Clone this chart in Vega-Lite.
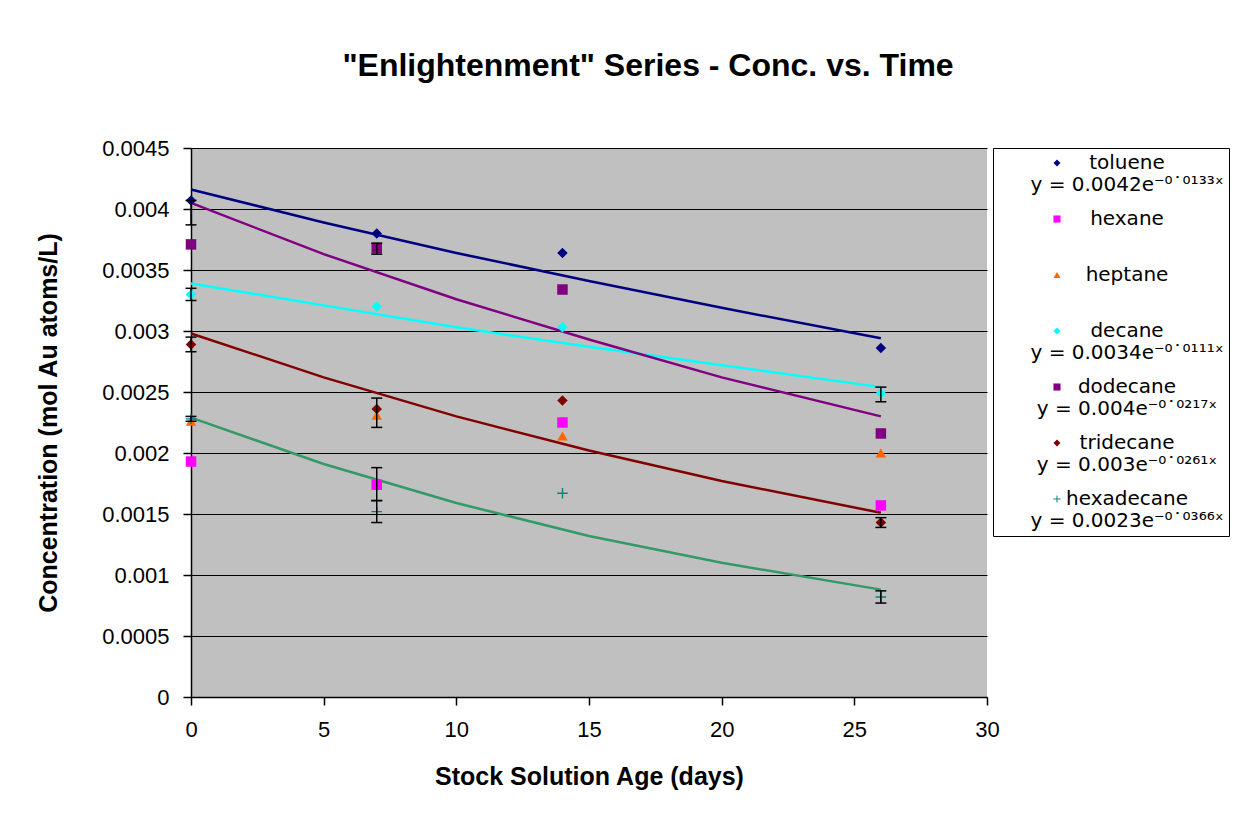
{
  "$schema": "https://vega.github.io/schema/vega-lite/v6.json",
  "width": 796,
  "height": 549,
  "autosize": {"type": "none"},
  "padding": {"left": 191, "top": 148, "right": 261, "bottom": 123},
  "background": "white",
  "title": {
    "text": "\"Enlightenment\" Series - Conc. vs. Time",
    "fontSize": 32,
    "fontWeight": "bold",
    "font": "Liberation Sans",
    "color": "black",
    "anchor": "middle",
    "frame": "group",
    "dx": 59,
    "offset": 54
  },
  "datasets": {
    "pts": [
      {"series": "toluene", "day": 0, "conc": 0.00407},
      {"series": "toluene", "day": 7, "conc": 0.00380},
      {"series": "toluene", "day": 14, "conc": 0.00364},
      {"series": "toluene", "day": 26, "conc": 0.00286},
      {"series": "hexane", "day": 0, "conc": 0.00193},
      {"series": "hexane", "day": 7, "conc": 0.00174},
      {"series": "hexane", "day": 14, "conc": 0.00225},
      {"series": "hexane", "day": 26, "conc": 0.00157},
      {"series": "heptane", "day": 0, "conc": 0.00226},
      {"series": "heptane", "day": 7, "conc": 0.00231},
      {"series": "heptane", "day": 14, "conc": 0.00214},
      {"series": "heptane", "day": 26, "conc": 0.00200},
      {"series": "decane", "day": 0, "conc": 0.00330},
      {"series": "decane", "day": 7, "conc": 0.00320},
      {"series": "decane", "day": 14, "conc": 0.00303},
      {"series": "decane", "day": 26, "conc": 0.00249},
      {"series": "dodecane", "day": 0, "conc": 0.00371},
      {"series": "dodecane", "day": 7, "conc": 0.00368},
      {"series": "dodecane", "day": 14, "conc": 0.00334},
      {"series": "dodecane", "day": 26, "conc": 0.00216},
      {"series": "tridecane", "day": 0, "conc": 0.00289},
      {"series": "tridecane", "day": 7, "conc": 0.00236},
      {"series": "tridecane", "day": 14, "conc": 0.00243},
      {"series": "tridecane", "day": 26, "conc": 0.00143},
      {"series": "hexadecane", "day": 0, "conc": 0.00228},
      {"series": "hexadecane", "day": 7, "conc": 0.00152},
      {"series": "hexadecane", "day": 14, "conc": 0.00167},
      {"series": "hexadecane", "day": 26, "conc": 0.00082}
    ],
    "err": [
      {"day": 0, "lo": 0.00387, "hi": 0.00407},
      {"day": 0, "lo": 0.00325, "hi": 0.00335},
      {"day": 0, "lo": 0.00283, "hi": 0.00295},
      {"day": 0, "lo": 0.00226, "hi": 0.00230},
      {"day": 7, "lo": 0.00363, "hi": 0.00372},
      {"day": 7, "lo": 0.00221, "hi": 0.00245},
      {"day": 7, "lo": 0.00161, "hi": 0.00188},
      {"day": 7, "lo": 0.00143, "hi": 0.00161},
      {"day": 26, "lo": 0.00242, "hi": 0.00254},
      {"day": 26, "lo": 0.00139, "hi": 0.00147},
      {"day": 26, "lo": 0.00077, "hi": 0.00087}
    ],
    "trend": [
      {"series": "toluene", "day": 0, "conc": 0.00416},
      {"series": "toluene", "day": 5, "conc": 0.00389},
      {"series": "toluene", "day": 10, "conc": 0.00364},
      {"series": "toluene", "day": 15, "conc": 0.00341},
      {"series": "toluene", "day": 20, "conc": 0.00319},
      {"series": "toluene", "day": 26, "conc": 0.00294},
      {"series": "decane", "day": 0, "conc": 0.00339},
      {"series": "decane", "day": 5, "conc": 0.00321},
      {"series": "decane", "day": 10, "conc": 0.00303},
      {"series": "decane", "day": 15, "conc": 0.00287},
      {"series": "decane", "day": 20, "conc": 0.00272},
      {"series": "decane", "day": 26, "conc": 0.00254},
      {"series": "dodecane", "day": 0, "conc": 0.00405},
      {"series": "dodecane", "day": 5, "conc": 0.00363},
      {"series": "dodecane", "day": 10, "conc": 0.00326},
      {"series": "dodecane", "day": 15, "conc": 0.00293},
      {"series": "dodecane", "day": 20, "conc": 0.00262},
      {"series": "dodecane", "day": 26, "conc": 0.00230},
      {"series": "tridecane", "day": 0, "conc": 0.00298},
      {"series": "tridecane", "day": 5, "conc": 0.00262},
      {"series": "tridecane", "day": 10, "conc": 0.00230},
      {"series": "tridecane", "day": 15, "conc": 0.00202},
      {"series": "tridecane", "day": 20, "conc": 0.00177},
      {"series": "tridecane", "day": 26, "conc": 0.00151},
      {"series": "hexadecane", "day": 0, "conc": 0.00229},
      {"series": "hexadecane", "day": 5, "conc": 0.00191},
      {"series": "hexadecane", "day": 10, "conc": 0.00159},
      {"series": "hexadecane", "day": 15, "conc": 0.00132},
      {"series": "hexadecane", "day": 20, "conc": 0.00110},
      {"series": "hexadecane", "day": 26, "conc": 0.00088}
    ]
  },
  "config": {
    "font": "Liberation Sans",
    "view": {"fill": "#C0C0C0", "stroke": null},
    "axis": {
      "domainColor": "black",
      "domainWidth": 1.5,
      "tickColor": "black",
      "tickWidth": 1.5,
      "tickSize": 8,
      "labelColor": "black",
      "labelFontSize": 22,
      "labelFont": "Liberation Sans",
      "labelPadding": 14,
      "labelFlush": false,
      "labelOverlap": false,
      "titleColor": "black",
      "titleFont": "Liberation Sans",
      "titleFontSize": 25,
      "titleFontWeight": "bold"
    }
  },
  "layer": [
    {
      "data": {"name": "trend"},
      "mark": {"type": "line", "strokeWidth": 2.5},
      "encoding": {
        "x": {"field": "day", "type": "quantitative", "scale": {"domain": [0, 30], "nice": false},
          "title": "Stock Solution Age (days)",
          "axis": {"values": [0, 5, 10, 15, 20, 25, 30], "grid": false, "titlePadding": 24}},
        "y": {"field": "conc", "type": "quantitative", "scale": {"domain": [0, 0.0045], "nice": false},
          "title": "Concentration (mol Au atoms/L)",
          "axis": {"values": [0, 0.0005, 0.001, 0.0015, 0.002, 0.0025, 0.003, 0.0035, 0.004, 0.0045],
            "format": "~g", "grid": true, "gridColor": "black", "gridWidth": 1.2, "gridOpacity": 1, "titlePadding": 40}},
        "stroke": {"field": "series", "type": "nominal", "legend": null,
          "scale": {"domain": ["toluene", "decane", "dodecane", "tridecane", "hexadecane"],
            "range": ["#000080", "#00FFFF", "#800080", "#800000", "#339966"]}}
      }
    },
    {
      "data": {"name": "pts"},
      "mark": {"type": "point", "filled": true, "size": 110, "opacity": 1},
      "encoding": {
        "x": {"field": "day", "type": "quantitative", "title": "Stock Solution Age (days)"},
        "y": {"field": "conc", "type": "quantitative", "title": "Concentration (mol Au atoms/L)"},
        "color": {"field": "series", "type": "nominal",
          "scale": {"domain": ["toluene", "hexane", "heptane", "decane", "dodecane", "tridecane", "hexadecane"],
            "range": ["#000080", "#FF00FF", "#FF6600", "#00FFFF", "#800080", "#800000", "#008080"]},
          "legend": {
            "title": null,
            "orient": "right",
            "offset": 6,
            "padding": 5,
            "fillColor": "white",
            "strokeColor": "black",
            "symbolSize": 50,
            "symbolOffset": 49,
            "labelOffset": 60,
            "labelAlign": "center",
            "labelFontSize": 20,
            "labelFont": "DejaVu Sans",
            "labelColor": "black",
            "labelLimit": 0,
            "rowPadding": 14,
            "labelExpr": "datum.label == 'toluene' ? ['toluene', 'y = 0.0042e\u207b\u2070\u02d9\u2070\u00b9\u00b3\u00b3\u02e3'] : datum.label == 'hexane' ? ['hexane', ''] : datum.label == 'heptane' ? ['heptane', ''] : datum.label == 'decane' ? ['decane', 'y = 0.0034e\u207b\u2070\u02d9\u2070\u00b9\u00b9\u00b9\u02e3'] : datum.label == 'dodecane' ? ['dodecane', 'y = 0.004e\u207b\u2070\u02d9\u2070\u00b2\u00b9\u2077\u02e3'] : datum.label == 'tridecane' ? ['tridecane', 'y = 0.003e\u207b\u2070\u02d9\u2070\u00b2\u2076\u00b9\u02e3'] : ['hexadecane', 'y = 0.0023e\u207b\u2070\u02d9\u2070\u00b3\u2076\u2076\u02e3']",
            "encode": {
              "labels": {"update": {"dy": {"value": 12}, "lineHeight": {"value": 24}}}
            }
          }},
        "shape": {"field": "series", "type": "nominal",
          "scale": {"domain": ["toluene", "hexane", "heptane", "decane", "dodecane", "tridecane", "hexadecane"],
            "range": ["diamond", "square", "triangle-up", "diamond", "square", "diamond",
              "M-1,-0.13H-0.13V-1H0.13V-0.13H1V0.13H0.13V1H-0.13V0.13H-1Z"]}}
      }
    },
    {
      "data": {"name": "err"},
      "mark": {"type": "rule", "color": "black", "strokeWidth": 1.5},
      "encoding": {
        "x": {"field": "day", "type": "quantitative", "title": "Stock Solution Age (days)"},
        "y": {"field": "lo", "type": "quantitative", "title": "Concentration (mol Au atoms/L)"},
        "y2": {"field": "hi"}
      }
    },
    {
      "data": {"name": "err"},
      "mark": {"type": "tick", "orient": "horizontal", "color": "black", "size": 11, "thickness": 1.5, "opacity": 1},
      "encoding": {
        "x": {"field": "day", "type": "quantitative", "title": "Stock Solution Age (days)"},
        "y": {"field": "lo", "type": "quantitative", "title": "Concentration (mol Au atoms/L)"}
      }
    },
    {
      "data": {"name": "err"},
      "mark": {"type": "tick", "orient": "horizontal", "color": "black", "size": 11, "thickness": 1.5, "opacity": 1},
      "encoding": {
        "x": {"field": "day", "type": "quantitative", "title": "Stock Solution Age (days)"},
        "y": {"field": "hi", "type": "quantitative", "title": "Concentration (mol Au atoms/L)"}
      }
    }
  ]
}
